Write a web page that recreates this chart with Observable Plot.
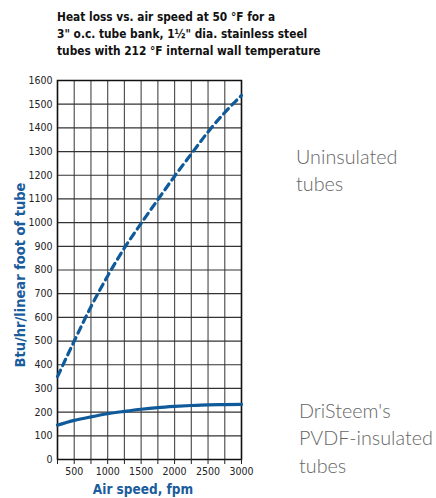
<!DOCTYPE html>
<html><head><meta charset="utf-8">
<script src="https://cdn.jsdelivr.net/npm/d3@7"></script>
<script src="https://cdn.jsdelivr.net/npm/@observablehq/plot@0.6"></script>
<style>
body{margin:0;background:#fff;}
#wrap{position:relative;width:436px;height:498px;}
.t{position:absolute;font-family:"DejaVu Sans Condensed","DejaVu Sans",sans-serif;font-stretch:condensed;}
#title{left:57px;top:9px;font-weight:bold;font-size:11.8px;line-height:17px;color:#111;}
.side{position:absolute;font-family:Lato,"Open Sans",sans-serif;font-weight:300;font-size:19.8px;line-height:27.3px;color:#666;}
#ylab{left:20px;top:275px;transform:translate(-50%,-50%) rotate(-90deg);white-space:nowrap;font-weight:bold;font-size:14.5px;color:#1a5c9c;}
#xlab{left:143px;top:481px;transform:translateX(-50%);white-space:nowrap;font-weight:bold;font-size:13.5px;color:#1a5c9c;}
</style></head><body>
<div id="wrap">
<div id="chart"></div>
<div id="title" class="t">Heat loss vs. air speed at 50 °F for a<br>3" o.c. tube bank, 1½" dia. stainless steel<br>tubes with 212 °F internal wall temperature</div>
<div id="ylab" class="t">Btu/hr/linear foot of tube</div>
<div id="xlab" class="t">Air speed, fpm</div>
<div class="side" style="left:296px;top:143px;">Uninsulated<br>tubes</div>
<div class="side" style="left:299px;top:397px;">DriSteem's<br>PVDF-insulated<br>tubes</div>
</div>
<script>
const airSpeed = [250, 500, 750, 1000, 1250, 1500, 1750, 2000, 2250, 2500, 2750, 3000];
const uninsulated = [350, 500, 645, 775, 893, 997, 1097, 1196, 1290, 1383, 1465, 1537];
const insulated = [145, 165, 180, 193, 203, 212, 219, 224, 228, 231, 232, 233];
const xGridTicks = [250, 500, 750, 1000, 1250, 1500, 1750, 2000, 2250, 2500, 2750, 3000];
const xLabelTicks = [500, 1000, 1500, 2000, 2500, 3000];
const yTicks = [0,100,200,300,400,500,600,700,800,900,1000,1100,1200,1300,1400,1500,1600];

const unins = airSpeed.map((x,i)=>({x, y: uninsulated[i]}));
const ins = airSpeed.map((x,i)=>({x, y: insulated[i]}));
const blue = "#0f5a9a";

const chart = Plot.plot({
  width: 436, height: 498,
  marginLeft: 57, marginRight: 195, marginTop: 80, marginBottom: 39,
  style: {fontFamily: '"DejaVu Sans Condensed","DejaVu Sans",sans-serif', fontStretch: "condensed", fontSize: "10.5px", color: "#222", background: "white"},
  x: {domain: [250, 3000], ticks: xGridTicks, label: null},
  y: {domain: [0, 1600], ticks: yTicks, label: null},
  marks: [
    Plot.ruleX(xGridTicks, {stroke: "#555", strokeWidth: 1.2}),
    Plot.ruleY(yTicks, {stroke: "#333", strokeWidth: 1.2}),
    Plot.frame({stroke: "#111", strokeWidth: 1.5}),
    Plot.axisX({ticks: xGridTicks, tickSize: 5, tickFormat: d => xLabelTicks.includes(d) ? String(d) : "", label: null, tickPadding: 3, stroke: "#222"}),
    Plot.axisY({ticks: yTicks, tickSize: 0, tickPadding: 5, tickFormat: d => String(d), label: null}),
    Plot.line(unins, {x: "x", y: "y", stroke: blue, strokeWidth: 3.2, strokeDasharray: "7,5", curve: "monotone-x"}),
    Plot.line(ins, {x: "x", y: "y", stroke: blue, strokeWidth: 3.2, curve: "monotone-x"})
  ]
});
document.getElementById("chart").appendChild(chart);
</script>
</body></html>
